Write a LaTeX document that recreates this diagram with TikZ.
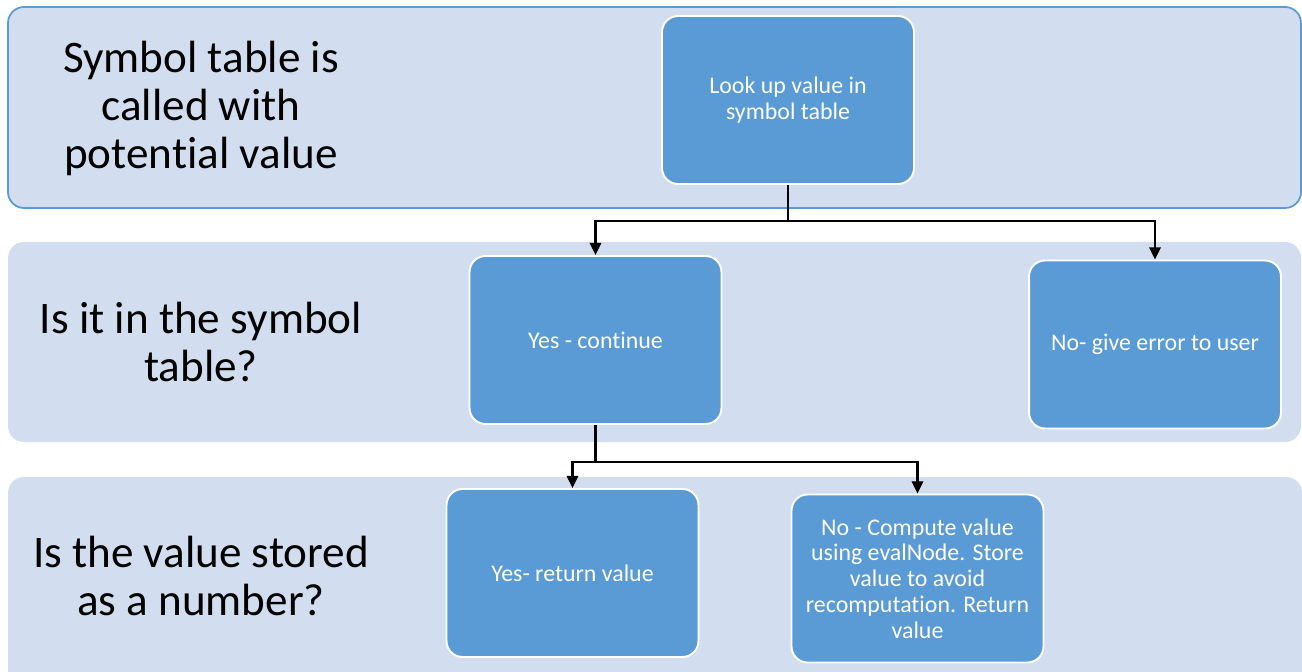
\documentclass[tikz,border=0pt]{standalone}
\usepackage{fontspec}
\setmainfont[Ligatures={NoCommon}]{Carlito}
\usepackage{tikz}
\usetikzlibrary{positioning,arrows.meta,calc}
\definecolor{laneBlue}{HTML}{D2DEEF}
\definecolor{laneEdge}{HTML}{5B9BD5}
\definecolor{stepBlue}{HTML}{5B9BD5}
\tikzset{
  lanebg/.style={fill=laneBlue, rounded corners=16*0.02cm},
  lanetext/.style={align=center, font=\fontsize{25.7}{27.3}\selectfont},
  stepbox/.style={draw=white, line width=1.1pt, fill=stepBlue, rounded corners=16*0.02cm,
                  minimum width=5.04cm, minimum height=3.36cm, align=center,
                  text=white, font=\fontsize{13.6}{14.7}\selectfont},
  flowarrow/.style={-{Triangle[length=7pt, width=6.5pt]}, line width=1.4pt, black},
}
\begin{document}
\begin{tikzpicture}[x=0.02cm, y=-0.02cm]
\clip (0,0) rectangle (1302,672);
%% Lanes
\path[lanebg, draw=laneEdge, line width=1pt] (8,7) rectangle (1301,208);
\path[lanebg] (8,242) rectangle (1301,442);
\path[lanebg] (8,477) rectangle (1302,700);
%% Lane labels
\node[lanetext] (lblcall) at (201,108) {Symbol table is\\called with\\potential value};
\node[lanetext] (lblfind) at (201,342) {Is it in the symbol\\table?};
\node[lanetext] (lblnum) at (201,576) {Is the value stored\\as a number?};
%% Steps
\node[stepbox] (lookup) at (788,100) {Look up value in\\symbol table};
\node[stepbox] (yes) at (595.5,340) {Yes - continue};
\node[stepbox] (noerr) at (1155,344.5) {No- give error to user};
\node[stepbox] (yesret) at (572.5,573) {Yes- return value};
\node[stepbox] (compute) at (917.5,578.5) {No - Compute value\\using evalNode. Store\\value to avoid\\recomputation. Return\\value};
%% Flow
\draw[flowarrow] (lookup.south) -- ++(0,36) -| (yes.north);
\draw[flowarrow] (lookup.south) -- ++(0,36) -| (noerr.north);
\draw[flowarrow] (yes.south) -- ++(0,37) -| (yesret.north);
\draw[flowarrow] (yes.south) -- ++(0,37) -| (compute.north);
\end{tikzpicture}
\end{document}
